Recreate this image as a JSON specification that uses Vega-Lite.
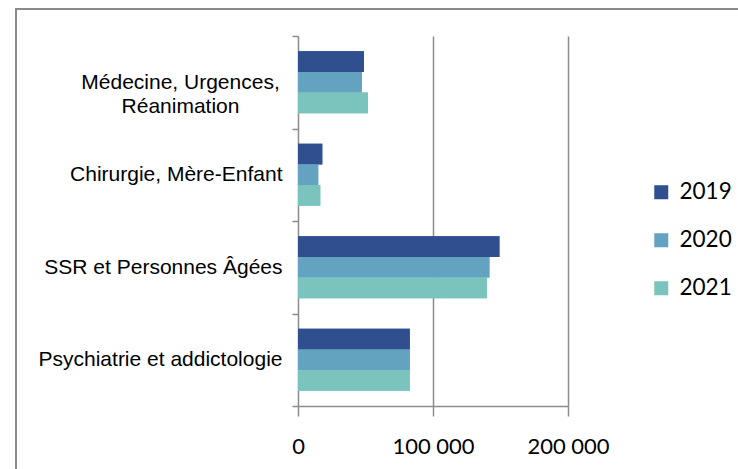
{
  "$schema": "https://vega.github.io/schema/vega-lite/v6.json",
  "autosize": {"type": "none"},
  "padding": {"left": 16, "top": 9, "right": -18, "bottom": -10},
  "width": 740,
  "height": 470,
  "background": "white",
  "config": {
    "view": {"stroke": "#8a8a8a", "strokeWidth": 2}
  },
  "data": {
    "values": [
      {"cat": "Médecine, Urgences, Réanimation", "year": "2019", "value": 48800},
      {"cat": "Médecine, Urgences, Réanimation", "year": "2020", "value": 47300},
      {"cat": "Médecine, Urgences, Réanimation", "year": "2021", "value": 51800},
      {"cat": "Chirurgie, Mère-Enfant", "year": "2019", "value": 18000},
      {"cat": "Chirurgie, Mère-Enfant", "year": "2020", "value": 15000},
      {"cat": "Chirurgie, Mère-Enfant", "year": "2021", "value": 16500},
      {"cat": "SSR et Personnes Âgées", "year": "2019", "value": 149200},
      {"cat": "SSR et Personnes Âgées", "year": "2020", "value": 141800},
      {"cat": "SSR et Personnes Âgées", "year": "2021", "value": 140000},
      {"cat": "Psychiatrie et addictologie", "year": "2019", "value": 82800},
      {"cat": "Psychiatrie et addictologie", "year": "2020", "value": 82800},
      {"cat": "Psychiatrie et addictologie", "year": "2021", "value": 82800}
    ]
  },
  "encoding": {
    "y": {
      "field": "cat",
      "type": "nominal",
      "sort": null,
      "scale": {"range": [27, 397], "paddingInner": 0, "paddingOuter": 0},
      "axis": {
        "title": null,
        "offset": -282,
        "domainColor": "#8c8c8c",
        "domainWidth": 1.5,
        "tickColor": "#8c8c8c",
        "tickWidth": 1.5,
        "tickSize": 6,
        "tickBand": "extent",
        "labelFont": "Liberation Sans",
        "labelFontSize": 21,
        "labelColor": "#000000",
        "labelLimit": 0,
        "labelLineHeight": 24,
        "labelExpr": "datum.value == 'Médecine, Urgences, Réanimation' ? ['Médecine, Urgences,', 'Réanimation'] : datum.value",
        "labelAlign": {"condition": {"test": "datum.value == 'Médecine, Urgences, Réanimation'", "value": "center"}, "value": "right"},
        "labelPadding": {"condition": {"test": "datum.value == 'Médecine, Urgences, Réanimation'", "value": 112}, "value": 10},
        "grid": false
      }
    },
    "yOffset": {
      "field": "year",
      "type": "nominal",
      "scale": {"domain": ["2019", "2020", "2021"], "paddingInner": 0, "paddingOuter": 0.7375}
    },
    "color": {
      "field": "year",
      "type": "nominal",
      "scale": {"domain": ["2019", "2020", "2021"], "range": ["#2F4F8F", "#64A3C0", "#7BC4BE"]},
      "legend": {
        "title": null,
        "orient": "none",
        "legendX": 634,
        "legendY": 172,
        "padding": 0,
        "symbolType": "square",
        "symbolSize": 196,
        "symbolStrokeWidth": 0,
        "labelFont": "Lato",
        "labelFontSize": 22.5,
        "labelColor": "#000000",
        "labelOffset": 7,
        "rowPadding": 25
      }
    }
  },
  "layer": [
    {
      "mark": {"type": "bar"},
      "encoding": {
        "x": {
          "field": "value",
          "type": "quantitative",
          "scale": {"domain": [0, 200000], "range": [282, 552], "nice": false},
          "axis": {
            "title": null,
            "orient": "bottom",
            "offset": -73,
            "values": [100000, 200000],
            "domain": false,
            "labels": false,
            "grid": false,
            "ticks": true,
            "tickSize": -370,
            "tickColor": "#8c8c8c",
            "tickWidth": 1.5
          }
        }
      }
    },
    {
      "mark": {"type": "bar"},
      "encoding": {
        "x": {
          "field": "value",
          "type": "quantitative",
          "scale": {"domain": [0, 200000], "range": [282, 552], "nice": false},
          "axis": {
            "title": null,
            "orient": "bottom",
            "offset": -73,
            "values": [0, 100000, 200000],
            "domainColor": "#8c8c8c",
            "domainWidth": 1.5,
            "tickColor": "#8c8c8c",
            "tickWidth": 1.5,
            "tickSize": 10,
            "grid": false,
            "labelFont": "Lato",
            "labelFontSize": 22,
            "labelColor": "#000000",
            "labelPadding": 20,
            "labelFlush": false,
            "labelOverlap": false,
            "labelExpr": "replace(format(datum.value, ','), ',', ' ')"
          }
        }
      }
    }
  ],
  "resolve": {"axis": {"x": "independent"}}
}
